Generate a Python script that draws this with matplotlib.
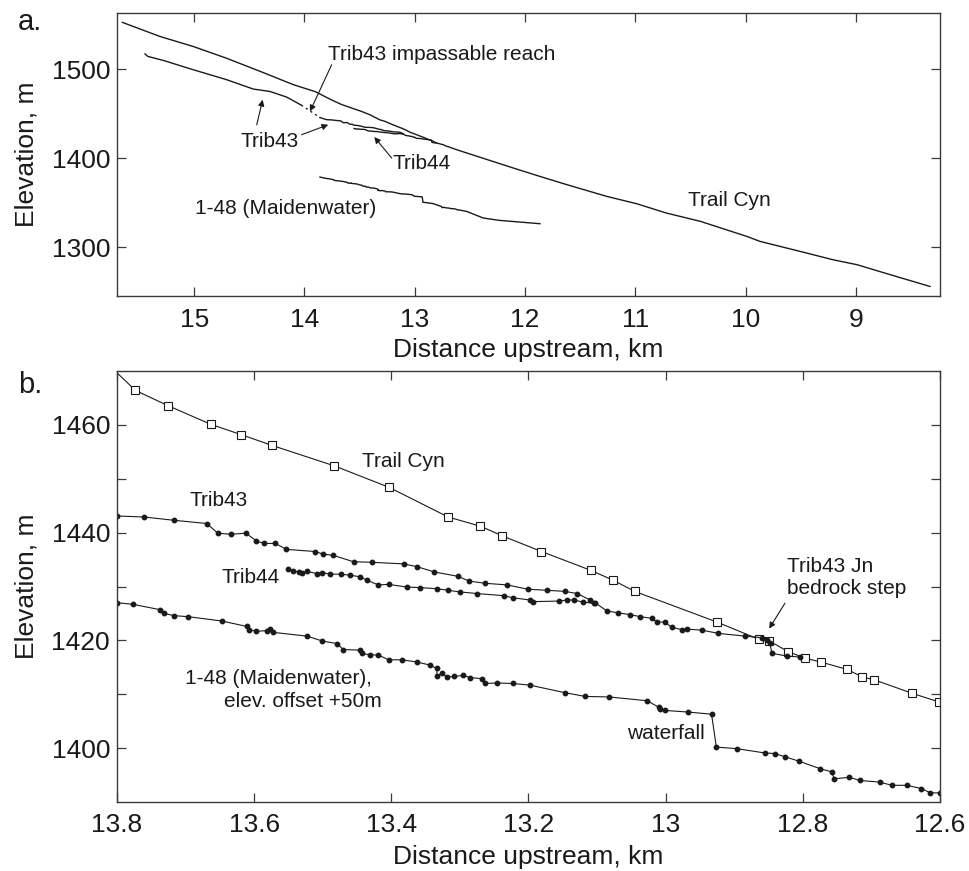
#!/usr/bin/env python

import matplotlib

matplotlib.use("Agg")
import matplotlib.pyplot as plt
import numpy as np
from matplotlib.ticker import FuncFormatter

plt.rcParams["font.family"] = ["Liberation Sans", "DejaVu Sans"]

INK = "#1a1a1a"
MAIDEN_OFFSET = 50  # Maidenwater is shifted up by 50 m in panel b

trail_b_km = [13.815, 13.773, 13.726, 13.663, 13.619, 13.574, 13.483, 13.403,
              13.317, 13.270, 13.238, 13.181, 13.109, 13.077, 13.045, 12.925,
              12.864, 12.849, 12.821, 12.797, 12.774, 12.735, 12.713, 12.696,
              12.641, 12.602]
trail_b_elev = [1471.5, 1466.4, 1463.6, 1460.1, 1458.2, 1456.2, 1452.4, 1448.4,
                1442.9, 1441.2, 1439.4, 1436.5, 1433.0, 1431.2, 1429.1, 1423.4,
                1420.2, 1419.9, 1417.9, 1416.7, 1416.0, 1414.6, 1413.2, 1412.7,
                1410.2, 1408.6]

trib43_b_km = [13.800, 13.760, 13.717, 13.669, 13.653, 13.634, 13.612, 13.597,
               13.586, 13.569, 13.553, 13.511, 13.499, 13.485, 13.455, 13.428,
               13.382, 13.363, 13.337, 13.303, 13.286, 13.263, 13.231, 13.201,
               13.173, 13.147, 13.129, 13.110, 13.103, 13.086, 13.069, 13.052,
               13.037, 13.020, 13.013, 13.001, 12.991, 12.976, 12.969, 12.947,
               12.923, 12.884, 12.860, 12.852, 12.848, 12.845, 12.823, 12.804]
trib43_b_elev = [1443.1, 1442.9, 1442.3, 1441.7, 1439.9, 1439.7, 1439.9, 1438.5,
                 1438.0, 1438.0, 1436.9, 1436.5, 1436.0, 1435.8, 1434.6, 1434.5,
                 1434.2, 1433.7, 1432.7, 1431.9, 1431.0, 1430.6, 1430.3, 1429.5,
                 1429.3, 1429.1, 1428.7, 1427.5, 1427.0, 1425.5, 1425.1, 1424.8,
                 1424.4, 1424.1, 1423.4, 1423.4, 1422.4, 1422.0, 1422.1, 1421.9,
                 1421.3, 1420.8, 1420.5, 1420.0, 1419.5, 1417.6, 1417.1, 1416.9]

trib44_b_km = [13.551, 13.543, 13.535, 13.530, 13.523, 13.508, 13.501, 13.489,
               13.474, 13.460, 13.445, 13.436, 13.419, 13.404, 13.377, 13.358,
               13.334, 13.317, 13.300, 13.275, 13.236, 13.222, 13.198, 13.193,
               13.156, 13.144, 13.134, 13.120, 13.105]
trib44_b_elev = [1433.2, 1432.9, 1432.7, 1432.5, 1432.8, 1432.4, 1432.6, 1432.3,
                 1432.3, 1432.1, 1431.8, 1431.2, 1430.3, 1430.4, 1429.9, 1429.8,
                 1429.6, 1429.3, 1429.0, 1428.7, 1428.3, 1427.9, 1427.5, 1427.2,
                 1427.3, 1427.5, 1427.5, 1427.1, 1426.9]

maiden_b_km = [13.800, 13.777, 13.737, 13.731, 13.717, 13.696, 13.647, 13.611,
               13.608, 13.597, 13.581, 13.577, 13.573, 13.523, 13.501, 13.479,
               13.470, 13.445, 13.443, 13.431, 13.419, 13.404, 13.385, 13.363,
               13.343, 13.334, 13.333, 13.326, 13.319, 13.309, 13.295, 13.285,
               13.268, 13.263, 13.246, 13.223, 13.198, 13.147, 13.117, 13.082,
               13.027, 13.010, 13.008, 13.001, 12.967, 12.933, 12.926, 12.896,
               12.855, 12.841, 12.826, 12.806, 12.775, 12.758, 12.754, 12.732,
               12.717, 12.688, 12.670, 12.648, 12.627, 12.614, 12.600]
maiden_b_elev = [1427.0, 1426.7, 1425.7, 1425.0, 1424.6, 1424.4, 1423.6, 1422.6,
                 1422.0, 1421.7, 1421.8, 1422.2, 1421.5, 1420.8, 1419.9, 1419.4,
                 1418.3, 1418.2, 1417.6, 1417.3, 1417.3, 1416.4, 1416.4, 1416.0,
                 1415.4, 1414.8, 1413.3, 1414.0, 1413.2, 1413.3, 1413.5, 1413.1,
                 1412.9, 1412.0, 1412.1, 1412.0, 1411.7, 1410.3, 1409.6, 1409.5,
                 1408.8, 1407.6, 1407.2, 1407.0, 1406.7, 1406.3, 1400.2, 1399.9,
                 1399.1, 1399.0, 1398.4, 1397.6, 1396.2, 1395.6, 1394.3, 1394.6,
                 1394.0, 1393.7, 1393.1, 1393.1, 1392.5, 1391.7, 1391.7]

# ---- panel a: the rest of the long profiles ----
trail_up_km = [15.65, 15.31, 15.01, 14.71, 14.40, 14.10, 13.90]
trail_up_elev = [1552.4, 1536.6, 1525.4, 1512.3, 1497.3, 1482.4, 1474.5]
trail_down_km = [12.40, 12.10, 11.865, 11.62, 11.26, 10.99, 10.72, 10.41, 9.99,
                 9.87, 9.45, 9.21, 8.99, 8.69, 8.33]
trail_down_elev = [1400.5, 1388.5, 1379.3, 1370.0, 1356.9, 1348.7, 1338.2,
                   1328.8, 1311.9, 1306.3, 1293.3, 1285.7, 1280.1, 1268.9, 1255.7]

trib43_up_km = [15.446, 15.42, 15.28, 15.008, 14.705, 14.464, 14.313, 14.162, 14.03]
trib43_up_elev = [1516.9, 1514.2, 1509.7, 1499.2, 1488.0, 1477.5, 1474.8, 1468.5, 1459.5]
impassable_km = [14.03, 13.86]
impassable_elev = [1459.5, 1445.5]

maiden_up_km = [13.86]
maiden_up_elev = [1378.6]
maiden_down_km = [12.53, 12.38, 12.23, 11.865]
maiden_down_elev = [1340.0, 1332.6, 1329.9, 1326.2]


def style_axes(ax, labelpad_x):
    for sp in ax.spines.values():
        sp.set_color("#3a3a3a")
        sp.set_linewidth(1.0)
    ax.tick_params(direction="in", top=True, right=True, length=6.5, width=0.9,
                   color="#3a3a3a", labelsize=19, labelcolor=INK)
    ax.tick_params(axis="x", pad=labelpad_x)
    ax.tick_params(axis="y", pad=5)


def main():
    fig = plt.figure(figsize=(9.69, 8.71), dpi=100)
    ax_a = fig.add_axes([0.1207, 0.6602, 0.8493, 0.3249])
    ax_b = fig.add_axes([0.1207, 0.0792, 0.8493, 0.4948])

    # panel a
    trail_a_km = trail_up_km + trail_b_km[1:] + trail_down_km
    trail_a_elev = trail_up_elev + trail_b_elev[1:] + trail_down_elev
    lw_a = 1.0
    ax_a.plot(trail_a_km, trail_a_elev, color=INK, lw=lw_a)
    ax_a.plot(trib43_up_km, trib43_up_elev, color=INK, lw=lw_a)
    ax_a.plot(impassable_km, impassable_elev, color=INK, lw=lw_a, ls=(0, (1.5, 2.5)))
    ax_a.plot(impassable_km[-1:] + trib43_b_km, impassable_elev[-1:] + trib43_b_elev,
              color=INK, lw=lw_a)
    ax_a.plot(trib44_b_km, trib44_b_elev, color=INK, lw=lw_a)
    maiden_a_elev = np.array(maiden_b_elev) - MAIDEN_OFFSET
    ax_a.plot(maiden_up_km + maiden_b_km + maiden_down_km,
              maiden_up_elev + list(maiden_a_elev) + maiden_down_elev,
              color=INK, lw=lw_a)

    ax_a.set_xlim(15.70, 8.24)
    ax_a.set_ylim(1245, 1563)
    ax_a.set_xticks([15, 14, 13, 12, 11, 10, 9])
    ax_a.set_yticks([1300, 1400, 1500])
    style_axes(ax_a, 9)
    ax_a.set_xlabel("Distance upstream, km", fontsize=19, color=INK)
    ax_a.set_ylabel("Elevation, m", fontsize=19, color=INK)
    ax_a.xaxis.set_label_coords(0.5, -0.15)
    ax_a.yaxis.set_label_coords(-0.095, 0.5)

    arrow = dict(arrowstyle="-|>", lw=0.8, color=INK, mutation_scale=9,
                 shrinkA=0, shrinkB=0)
    fs = 15
    ax_a.text(13.787, 1516, "Trib43 impassable reach", fontsize=fs, color=INK,
              ha="left", va="center")
    ax_a.annotate("", xy=(13.95, 1452.4), xytext=(13.754, 1504.8), arrowprops=arrow)
    ax_a.text(14.313, 1418.7, "Trib43", fontsize=fs, color=INK, ha="center", va="center")
    ax_a.annotate("", xy=(14.379, 1465.5), xytext=(14.433, 1437.4), arrowprops=arrow)
    ax_a.annotate("", xy=(13.785, 1437.4), xytext=(14.026, 1426.2), arrowprops=arrow)
    ax_a.text(12.94, 1393.6, "Trib44", fontsize=fs, color=INK, ha="center", va="center")
    ax_a.annotate("", xy=(13.367, 1423.6), xytext=(13.21, 1400.0), arrowprops=arrow)
    ax_a.text(14.172, 1343, "1-48 (Maidenwater)", fontsize=fs, color=INK,
              ha="center", va="center")
    ax_a.text(10.15, 1352, "Trail Cyn", fontsize=fs, color=INK, ha="center", va="center")

    # panel b
    ax_b.plot(trail_b_km, trail_b_elev, color=INK, lw=0.8, marker="s", ms=5.5,
              mfc="white", mec=INK, mew=0.8)
    ax_b.plot(trib43_b_km, trib43_b_elev, color=INK, lw=0.8, marker="o", ms=3.2,
              mfc=INK, mec=INK)
    ax_b.plot(trib44_b_km, trib44_b_elev, color=INK, lw=0.8, marker="o", ms=3.2,
              mfc=INK, mec=INK)
    ax_b.plot(maiden_b_km, maiden_b_elev, color=INK, lw=0.8, marker="o", ms=3.2,
              mfc=INK, mec=INK)

    ax_b.set_xlim(13.8, 12.6)
    ax_b.set_ylim(1390, 1470)
    ax_b.set_xticks([13.8, 13.6, 13.4, 13.2, 13.0, 12.8, 12.6])
    ax_b.xaxis.set_major_formatter(FuncFormatter(lambda v, p: f"{v:g}"))
    ax_b.set_yticks([1400, 1410, 1420, 1430, 1440, 1450, 1460])
    ax_b.yaxis.set_major_formatter(
        FuncFormatter(lambda v, p: f"{v:.0f}" if round(v) % 20 == 0 else ""))
    style_axes(ax_b, 8)
    ax_b.set_xlabel("Distance upstream, km", fontsize=19, color=INK)
    ax_b.set_ylabel("Elevation, m", fontsize=19, color=INK)
    ax_b.xaxis.set_label_coords(0.5, -0.10)
    ax_b.yaxis.set_label_coords(-0.095, 0.5)

    ax_b.text(13.443, 1453.2, "Trail Cyn", fontsize=fs, color=INK, ha="left", va="center")
    ax_b.text(13.652, 1445.9, "Trib43", fontsize=fs, color=INK, ha="center", va="center")
    ax_b.text(13.605, 1431.7, "Trib44", fontsize=fs, color=INK, ha="center", va="center")
    ax_b.text(13.701, 1412.9, "1-48 (Maidenwater),", fontsize=fs, color=INK,
              ha="left", va="center")
    ax_b.text(13.644, 1408.6, "elev. offset +50m", fontsize=fs, color=INK,
              ha="left", va="center")
    ax_b.text(13.0, 1402.75, "waterfall", fontsize=fs, color=INK, ha="center", va="center")
    ax_b.text(12.823, 1431.65, "Trib43 Jn\nbedrock step", fontsize=fs, color=INK,
              ha="left", va="center")
    ax_b.annotate("", xy=(12.849, 1422.2), xytext=(12.826, 1426.9), arrowprops=arrow)

    fig.text(0.0186, 0.9656, "a.", fontsize=21, color=INK, ha="left", va="baseline")
    fig.text(0.0186, 0.5488, "b.", fontsize=21, color=INK, ha="left", va="baseline")

    fig.savefig("out.png", dpi=100)


if __name__ == "__main__":
    main()
